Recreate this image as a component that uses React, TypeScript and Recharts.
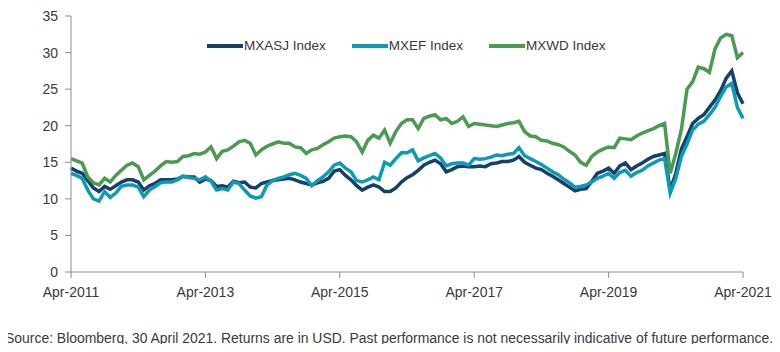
import { LineChart, Line, XAxis, YAxis } from 'recharts'

// x-axis tick labels, one every 24 months starting Apr-2011
const tickLabels = ['Apr-2011', 'Apr-2013', 'Apr-2015', 'Apr-2017', 'Apr-2019', 'Apr-2021']
const yTicks = [0, 5, 10, 15, 20, 25, 30, 35]

// monthly readings, Apr-2011 .. Apr-2021
const mxasj = [
  14.2, 13.8, 13.5, 12.5, 11.5, 11.0, 11.7, 11.3, 11.8, 12.3, 12.6, 12.6,
  12.3, 11.2, 11.8, 12.1, 12.6, 12.6, 12.6, 12.7, 13.1, 13.0, 13.0, 12.3,
  12.7, 12.5, 11.7, 11.8, 11.6, 12.4, 12.2, 12.3, 11.6, 11.5, 12.1, 12.3,
  12.5, 12.6, 12.7, 12.8, 12.6, 12.3, 12.1, 11.9, 12.2, 12.4, 12.8, 13.8,
  14.0, 13.2, 12.6, 11.8, 11.2, 11.6, 11.9, 11.6, 11.0, 11.0, 11.5, 12.3,
  12.9, 13.3, 13.9, 14.6, 15.0, 15.3, 14.8, 13.7, 14.0, 14.4, 14.5, 14.4,
  14.4, 14.5, 14.4, 14.8, 14.9, 15.1, 15.1, 15.3, 15.8, 15.0, 14.6, 14.2,
  14.0, 13.5, 13.1, 12.6, 12.1, 11.6, 11.1, 11.3, 11.4, 12.4, 13.5, 13.8,
  14.2, 13.5, 14.5, 14.9, 14.0, 14.5, 14.9, 15.4, 15.8, 16.0, 16.2, 11.2,
  13.5, 16.8, 18.5, 20.3, 21.0, 21.5, 22.5, 23.5, 24.8, 26.5, 27.5, 24.5,
  23.0,
]
const mxef = [
  13.5, 13.2, 12.8, 11.2, 10.0, 9.7, 11.0, 10.2, 10.8, 11.7, 11.9, 11.9,
  11.6, 10.3, 11.2, 11.7, 12.2, 12.3, 12.3, 12.6, 13.1, 12.9, 12.8, 12.6,
  13.0, 12.4, 11.2, 11.4, 11.2, 12.3, 12.1, 11.2, 10.4, 10.1, 10.3, 11.9,
  12.5, 12.8, 13.0, 13.3, 13.5, 13.2, 12.8, 11.8, 12.5, 13.0, 13.7, 14.6,
  14.9, 14.2, 13.7, 12.5, 12.3, 12.6, 13.0, 12.6, 15.0, 14.6, 15.5, 16.3,
  16.3, 16.7, 15.2, 15.6, 15.9, 16.2, 15.6, 14.5, 14.8, 14.9, 14.9, 14.6,
  15.5, 15.4, 15.5, 15.7, 16.0, 15.9, 16.1, 16.2, 17.0, 15.9, 15.5, 15.1,
  14.7, 14.2, 13.7, 13.3, 12.7, 12.2, 11.6, 11.7, 11.9, 12.3, 12.8, 13.1,
  13.5, 12.8, 13.6, 13.9, 13.1, 13.6, 13.9, 14.5, 14.9, 15.3, 15.5, 10.8,
  12.8, 15.8, 17.5, 19.4, 20.2, 20.6, 21.5, 22.5, 24.0, 25.3, 25.8, 22.5,
  21.0,
]
const mxwd = [
  15.5, 15.2, 14.9, 13.0, 12.2, 11.9, 12.8, 12.3, 13.2, 13.9, 14.6, 14.9,
  14.4, 12.6, 13.2, 13.8, 14.5, 15.1, 15.0, 15.1, 15.8, 15.9, 16.2, 16.1,
  16.4, 17.1, 15.5, 16.5, 16.7, 17.2, 17.8, 18.0, 17.6, 16.0, 16.7, 17.2,
  17.5, 17.8, 17.6, 17.6, 17.1, 17.0, 16.2, 16.7, 16.9, 17.4, 17.8, 18.3,
  18.5, 18.6, 18.5, 17.8, 16.4, 18.0, 18.7, 18.3, 19.4, 17.6, 19.2, 20.3,
  20.8, 20.8, 19.6, 21.0, 21.3, 21.5, 20.8, 21.0, 20.3, 20.6, 21.2, 19.9,
  20.3, 20.2, 20.1, 20.0, 19.9, 20.1, 20.3, 20.4, 20.6, 19.2, 18.6, 18.5,
  18.0, 17.9, 17.6, 17.4, 17.1, 16.5, 16.0, 15.0, 14.6, 15.8, 16.4, 16.8,
  17.1, 17.0, 18.3, 18.2, 18.1, 18.6, 19.0, 19.3, 19.6, 20.0, 20.3, 13.5,
  16.2, 19.5, 25.0, 26.0, 28.0, 27.8, 27.3, 30.5, 32.0, 32.5, 32.3, 29.3,
  30.0,
]

const series = [
  { key: 'MXASJ', name: 'MXASJ Index', color: '#173f6c' },
  { key: 'MXEF', name: 'MXEF Index', color: '#0d9ab5' },
  { key: 'MXWD', name: 'MXWD Index', color: '#4a9a52' },
]

const data = mxasj.map((v, i) => ({ m: i, MXASJ: v, MXEF: mxef[i], MXWD: mxwd[i] }))

const font = '"Liberation Sans", Arial, sans-serif'
const textColor = '#3a3a3a'
const axisColor = '#8c8c8c'

export default function App() {
  return (
    <div style={{ position: 'relative', width: 780, height: 352, margin: -8, background: '#fff', fontFamily: font }}>
      <LineChart width={780} height={300} data={data} margin={{ top: 16, right: 37, bottom: 0, left: 31 }}>
        <XAxis
          dataKey="m"
          type="number"
          domain={[0, 120]}
          ticks={[0, 24, 48, 72, 96, 120]}
          tickFormatter={(v: number) => tickLabels[v / 24]}
          height={28}
          stroke={axisColor}
          tickSize={6}
          tickMargin={9}
          tick={{ fill: textColor, fontSize: 14, fontFamily: font }}
        />
        <YAxis
          domain={[0, 35]}
          ticks={yTicks}
          width={40}
          stroke={axisColor}
          tickSize={6}
          tickMargin={7}
          tick={{ fill: textColor, fontSize: 14, fontFamily: font }}
        />
        {series.map((s) => (
          <Line
            key={s.key}
            type="linear"
            dataKey={s.key}
            name={s.name}
            stroke={s.color}
            strokeWidth={3.5}
            dot={false}
            isAnimationActive={false}
          />
        ))}
      </LineChart>

      {/* legend */}
      <div style={{ position: 'absolute', top: 37, left: 207, display: 'flex', alignItems: 'center' }}>
        {series.map((s, i) => (
          <div key={s.key} style={{ display: 'flex', alignItems: 'center', marginLeft: i === 0 ? 0 : 26 }}>
            <div style={{ width: 36, height: 4, background: s.color, marginRight: 1 }} />
            <span style={{ fontSize: 13.5, color: textColor, lineHeight: '18px' }}>{s.name}</span>
          </div>
        ))}
      </div>

      {/* source note */}
      <svg width={780} height={30} style={{ position: 'absolute', top: 326, left: 0, overflow: 'visible' }}>
        <text
          x={5}
          y={17}
          textAnchor="start"
          fontSize={14}
          fill={textColor}
          fontFamily={font}
          textLength={768}
          lengthAdjust="spacingAndGlyphs"
        >
          Source: Bloomberg, 30 April 2021. Returns are in USD. Past performance is not necessarily indicative of future performance.
        </text>
      </svg>
    </div>
  )
}
